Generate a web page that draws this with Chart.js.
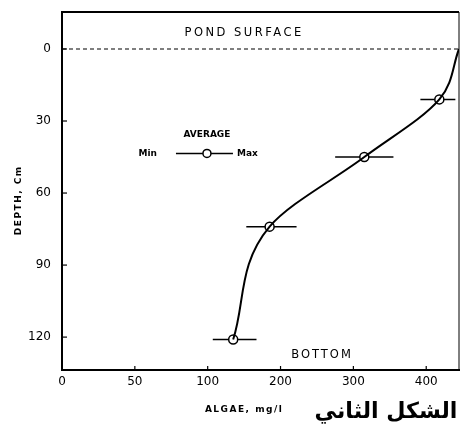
<!DOCTYPE html>
<html>
<head>
<meta charset="utf-8">
<script src="https://cdn.jsdelivr.net/npm/chart.js@4"></script>
<style>
  html, body { margin: 0; padding: 0; background: #fff; }
</style>
</head>
<body>
<canvas id="myChart" width="461" height="443"></canvas>
<script>
// data
const xLabels = [0, 50, 100, 200, 300, 400],
    yLabels = [0, 30, 60, 90, 120],
    depth = [21, 45, 74, 121],
    algaeAvg = [418, 315, 185, 135],
    algaeMin = [392, 275, 153, 107],
    algaeMax = [440, 355, 222, 167],
    surfaceAlgae = 445;

// the printed algae axis is not linear: labels are evenly spaced
function toAxis(v) {
    for (let i = 0; i < xLabels.length - 1; i++) {
        if (v <= xLabels[i + 1]) {
            return i + (v - xLabels[i]) / (xLabels[i + 1] - xLabels[i]);
        }
    }
    const n = xLabels.length - 1;
    return n + (v - xLabels[n]) / (xLabels[n] - xLabels[n - 1]);
}

const avgPoints = depth.map((d, i) => ({ x: toAxis(algaeAvg[i]), y: d })),
    curvePoints = avgPoints.slice().reverse().concat([{ x: toAxis(surfaceAlgae), y: 0 }]);

const font = 'DejaVu Sans';

// frame, tick marks, error bars, labels
const extras = {
    id: 'extras',
    beforeDatasetsDraw(chart) {
        const { ctx, chartArea: a, scales: { x, y } } = chart;
        ctx.save();
        ctx.strokeStyle = '#000';
        // min-max bars
        ctx.lineWidth = 1.5;
        depth.forEach((d, i) => {
            const py = y.getPixelForValue(d);
            ctx.beginPath();
            ctx.moveTo(x.getPixelForValue(toAxis(algaeMin[i])), py);
            ctx.lineTo(x.getPixelForValue(toAxis(algaeMax[i])), py);
            ctx.stroke();
        });
        // pond surface
        ctx.lineWidth = 1.2;
        ctx.setLineDash([4, 3]);
        const sy = y.getPixelForValue(0);
        ctx.beginPath();
        ctx.moveTo(a.left, sy);
        ctx.lineTo(a.right, sy);
        ctx.stroke();
        ctx.restore();
    },
    afterDraw(chart) {
        const { ctx, chartArea: a, scales: { x, y } } = chart;
        ctx.save();
        ctx.strokeStyle = '#000';
        ctx.fillStyle = '#000';
        // top and right frame
        ctx.lineWidth = 2;
        ctx.beginPath();
        ctx.moveTo(a.left, a.top);
        ctx.lineTo(a.right, a.top);
        ctx.stroke();
        ctx.lineWidth = 1;
        ctx.beginPath();
        ctx.moveTo(a.right, a.top);
        ctx.lineTo(a.right, a.bottom);
        ctx.stroke();
        // inward tick marks
        ctx.lineWidth = 1.2;
        x.ticks.forEach((t) => {
            const px = x.getPixelForValue(t.value);
            ctx.beginPath();
            ctx.moveTo(px, a.bottom);
            ctx.lineTo(px, a.bottom - 4);
            ctx.stroke();
        });
        y.ticks.forEach((t) => {
            const py = y.getPixelForValue(t.value);
            ctx.beginPath();
            ctx.moveTo(a.left, py);
            ctx.lineTo(a.left + 5, py);
            ctx.stroke();
        });

        ctx.textAlign = 'center';
        ctx.textBaseline = 'middle';
        ctx.letterSpacing = '2.5px';
        ctx.font = '11.5px "' + font + '"';
        ctx.fillText('POND SURFACE', x.getPixelForValue(2.5), y.getPixelForValue(-6.5));
        ctx.letterSpacing = '2px';
        ctx.fillText('BOTTOM', x.getPixelForValue(3.57), y.getPixelForValue(127.5));

        // legend
        ctx.letterSpacing = '0px';
        ctx.font = 'bold 9px "' + font + '"';
        const lx = x.getPixelForValue(1.99), ly = y.getPixelForValue(43.5);
        ctx.fillText('AVERAGE', lx, y.getPixelForValue(35.5));
        ctx.textAlign = 'right';
        ctx.fillText('Min', lx - 50, ly);
        ctx.textAlign = 'left';
        ctx.fillText('Max', lx + 30, ly);
        ctx.lineWidth = 1.5;
        ctx.beginPath();
        ctx.moveTo(lx - 31, ly);
        ctx.lineTo(lx + 26, ly);
        ctx.stroke();
        ctx.beginPath();
        ctx.arc(lx, ly, 4, 0, Math.PI * 2);
        ctx.fillStyle = '#fff';
        ctx.fill();
        ctx.stroke();
        ctx.fillStyle = '#000';

        // axis titles
        ctx.textAlign = 'center';
        ctx.letterSpacing = '1.5px';
        ctx.font = 'bold 9px "' + font + '"';
        ctx.fillText('ALGAE, mg/l', x.getPixelForValue(2.5), 410);
        ctx.save();
        ctx.translate(19, y.getPixelForValue(63));
        ctx.rotate(-Math.PI / 2);
        ctx.fillText('DEPTH, Cm', 0, 0);
        ctx.restore();

        // caption, fitted to the width it has in the figure
        ctx.letterSpacing = '0px';
        ctx.direction = 'rtl';
        ctx.font = 'bold 30px "' + font + '"';
        const size = 30 * 143 / ctx.measureText('الشكل الثاني').width;
        ctx.font = 'bold ' + size + 'px "' + font + '"';
        ctx.fillText('الشكل الثاني', 386, 412);
        ctx.restore();
    }
};

const ctx = document.getElementById('myChart'),
    myChart = new Chart(ctx, {
        type: 'scatter',
        data: {
            datasets: [{
                label: 'curve',
                data: curvePoints,
                indexAxis: 'y',
                showLine: true,
                borderColor: '#000',
                borderWidth: 2,
                pointRadius: 0,
                cubicInterpolationMode: 'monotone'
            }, {
                label: 'Average',
                data: avgPoints,
                showLine: false,
                pointRadius: 4.5,
                pointBackgroundColor: '#fff',
                pointBorderColor: '#000',
                pointBorderWidth: 1.5
            }]
        },
        options: {
            responsive: false,
            animation: false,
            layout: { autoPadding: false, padding: { top: 12, right: 2 } },
            plugins: { legend: { display: false }, tooltip: { enabled: false } },
            scales: {
                x: {
                    type: 'linear',
                    min: 0,
                    max: 5.45,
                    afterFit: (s) => { s.height = 73; s.paddingLeft = 0; s.paddingRight = 0; },
                    afterBuildTicks: (s) => { s.ticks = xLabels.map((_, i) => ({ value: i })); },
                    ticks: {
                        callback: (v, i) => xLabels[i],
                        color: '#000',
                        padding: 5,
                        maxRotation: 0,
                        font: { family: font, size: 12 }
                    },
                    grid: { display: false, drawTicks: false },
                    border: { color: '#000', width: 2 }
                },
                y: {
                    type: 'linear',
                    reverse: true,
                    min: -15.4,
                    max: 133.7,
                    afterFit: (s) => { s.width = 62; s.paddingTop = 0; s.paddingBottom = 0; },
                    afterBuildTicks: (s) => { s.ticks = yLabels.map((v) => ({ value: v })); },
                    ticks: {
                        color: '#000',
                        padding: 11,
                        font: { family: font, size: 12 }
                    },
                    grid: { display: false, drawTicks: false },
                    border: { color: '#000', width: 2 }
                }
            }
        },
        plugins: [extras]
    });
</script>
</body>
</html>
